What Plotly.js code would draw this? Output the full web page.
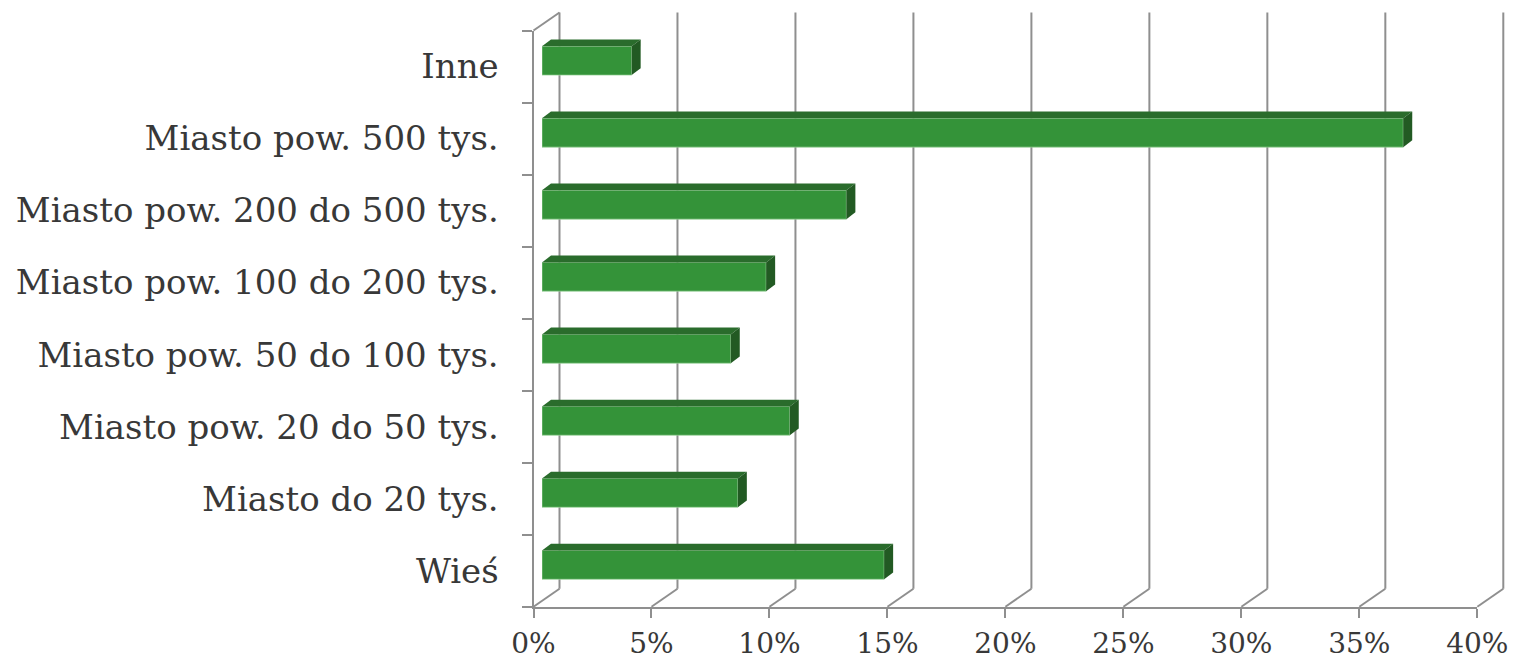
<!DOCTYPE html>
<html><head><meta charset="utf-8">
<script src="https://cdn.plot.ly/plotly-3.0.1.min.js"></script>
<style>html,body{margin:0;padding:0;background:#fff}#chart{width:1514px;height:659px}</style>
</head><body><div id="chart"></div>
<script>
// ---- data ----
const categories = ['Wieś', 'Miasto do 20 tys.', 'Miasto pow. 20 do 50 tys.', 'Miasto pow. 50 do 100 tys.',
  'Miasto pow. 100 do 200 tys.', 'Miasto pow. 200 do 500 tys.', 'Miasto pow. 500 tys.', 'Inne'];
const values = [14.5, 8.3, 10.5, 8.0, 9.5, 12.9, 36.5, 3.8];
const tickValues = [0, 5, 10, 15, 20, 25, 30, 35, 40];
const tickLabels = ['0%', '5%', '10%', '15%', '20%', '25%', '30%', '35%', '40%'];

// ---- geometry (pixels) ----
const W = 1514, H = 659;
const L = 533.5, R = 1477.3, B = 606.7, T = 30.5;   // front plane
const WX = 26, WY = 18;                              // back wall offset
const BX = 8.5, BY = 5.8;                            // bar front offset
const DXp = 9, DYp = 6.8;                            // bar depth
const fx = p => p / W;
const fy = p => (H - p) / H;
const xMin = tickValues[0], xMax = tickValues[tickValues.length - 1];
const pxPerUnit = (R - L) / (xMax - xMin);
const pxPerCat = (B - T) / categories.length;
const DX = DXp / pxPerUnit, DY = DYp / pxPerCat;
const barW = 0.4;
const tickPx = t => L + (t - xMin) * pxPerUnit;   // front-plane pixel of an axis value

const gray = '#8f8f8f';
const textColor = '#383838';
const font = 'DejaVu Serif';
const cFront = '#349339', cTop = '#2a6c2c', cSide = '#225a23';

const yRange = [-0.5, categories.length - 0.5];

// empty trace so the front-plane axes (labels, ticks, edges) are drawn
const frontAxes = {type: 'scatter', mode: 'markers', x: [], y: [], xaxis: 'x', yaxis: 'y',
  hoverinfo: 'skip', showlegend: false};

const bars = {
  type: 'bar', orientation: 'h',
  x: values, y: categories,
  xaxis: 'x3', yaxis: 'y3',
  width: barW,
  marker: {color: cFront, line: {color: 'rgba(160,215,160,0.9)', width: 0.8}},
  hoverinfo: 'skip', showlegend: false
};

const shapes = [];
const frameLine = (x0, y0, x1, y1) => ({type: 'line', xref: 'paper', yref: 'paper',
  x0: fx(x0), y0: fy(y0), x1: fx(x1), y1: fy(y1), line: {color: gray, width: 2}, layer: 'below'});
tickValues.forEach(t => {
  const p = tickPx(t);
  shapes.push(frameLine(p + WX, B - WY, p + WX, T - WY));   // back wall gridline
  shapes.push(frameLine(p, B, p + WX, B - WY));             // floor diagonal
});
shapes.push(frameLine(tickPx(xMin), T, tickPx(xMin) + WX, T - WY)); // top-left wall edge

// bar top and side faces
values.forEach((v, i) => {
  const yt = i + barW / 2, yb = i - barW / 2;
  shapes.push({type: 'path', xref: 'x3', yref: 'y3', layer: 'above', line: {width: 0}, fillcolor: cTop,
    path: `M ${xMin},${yt} L ${v},${yt} L ${v + DX},${yt + DY} L ${xMin + DX},${yt + DY} Z`});
  shapes.push({type: 'path', xref: 'x3', yref: 'y3', layer: 'above', line: {width: 0}, fillcolor: cSide,
    path: `M ${v},${yb} L ${v},${yt} L ${v + DX},${yt + DY} L ${v + DX},${yb + DY} Z`});
});

const layout = {
  width: W, height: H,
  margin: {l: 0, r: 0, t: 0, b: 0},
  paper_bgcolor: '#ffffff', plot_bgcolor: 'rgba(0,0,0,0)',
  showlegend: false,
  font: {family: font, color: textColor},
  // front plane
  xaxis: {domain: [fx(L), fx(R)], range: [xMin, xMax], anchor: 'y',
    tickvals: tickValues, ticktext: tickLabels, ticks: 'outside', ticklen: 9, tickwidth: 2, tickcolor: gray,
    showline: true, linecolor: gray, linewidth: 2, showgrid: false, zeroline: false,
    tickfont: {family: font, size: 28, color: textColor}, ticklabelstandoff: 2, automargin: false, fixedrange: true},
  yaxis: {domain: [fy(B), fy(T)], range: yRange, type: 'category', categoryorder: 'array', categoryarray: categories,
    anchor: 'x', tickson: 'boundaries', ticks: 'outside', ticklen: 10, tickwidth: 2, tickcolor: gray,
    showline: true, linecolor: gray, linewidth: 2, showgrid: false, zeroline: false,
    tickfont: {family: font, size: 34, color: textColor}, ticklabelstandoff: 26, automargin: false, fixedrange: true},
  // bars
  xaxis3: {domain: [fx(L + BX), fx(R + BX)], range: [xMin, xMax], anchor: 'y3',
    showticklabels: false, ticks: '', showgrid: false, showline: false, zeroline: false, fixedrange: true},
  yaxis3: {domain: [fy(B - BY), fy(T - BY)], range: yRange, type: 'category', categoryorder: 'array', categoryarray: categories,
    anchor: 'x3', showticklabels: false, ticks: '', showgrid: false, showline: false, zeroline: false, fixedrange: true},
  shapes: shapes
};

Plotly.newPlot('chart', [frontAxes, bars], layout, {staticPlot: true, displayModeBar: false});
</script>
</body></html>
